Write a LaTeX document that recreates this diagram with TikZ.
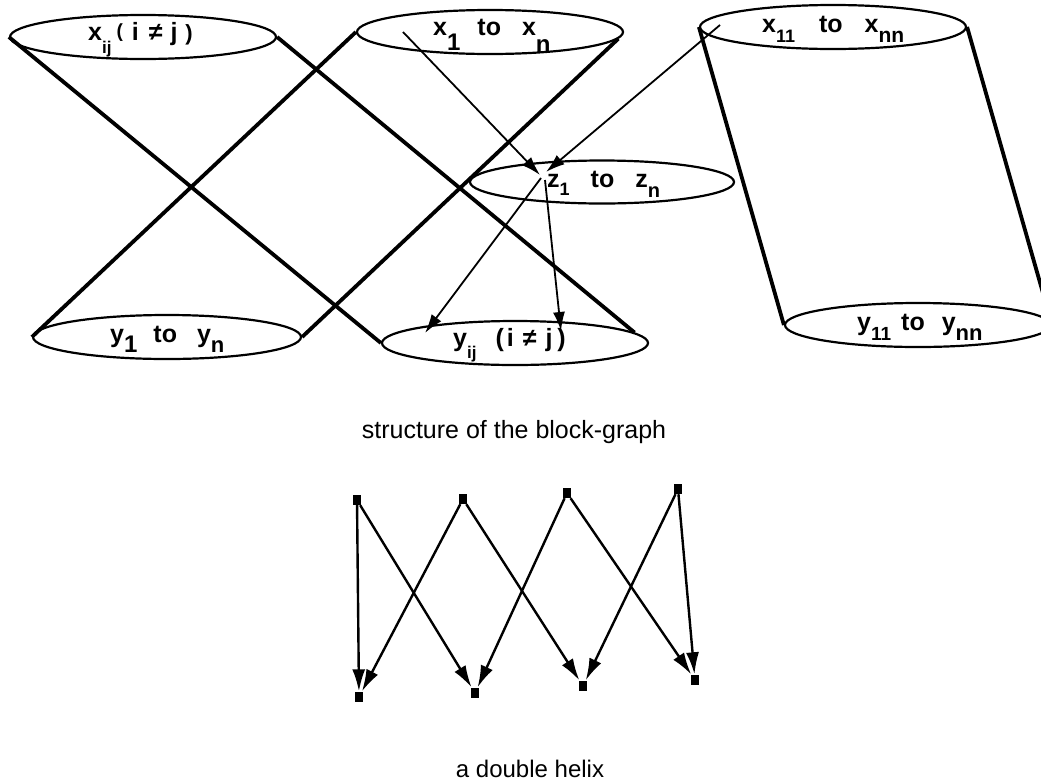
\documentclass[tikz,border=0pt]{standalone}
\usepackage{fontspec}
\setmainfont{Liberation Sans}
\usetikzlibrary{shapes.geometric,arrows.meta}
\newcommand\lowsub[3]{\raisebox{-#1pt}{\fontsize{#2}{#2}\selectfont #3}}
\newcommand\fs[2]{{\fontsize{#1}{#1}\selectfont #2}}
\begin{document}
\begin{tikzpicture}[x=1pt,y=-1pt,
  oval/.style={draw,ellipse,line width=2.2pt,minimum width=266pt,minimum height=44pt,inner sep=0pt},
  lbl/.style={anchor=base west,inner sep=0pt,font=\bfseries\fontsize{25}{25}\selectfont},
  conelink/.style={line width=3.8pt},
  thinarrow/.style={line width=1.8pt,-{Latex[length=19pt,width=12pt]}},
  sq/.style={fill=black,minimum width=8pt,minimum height=10pt,inner sep=0pt},
  hx/.style={line width=2.4pt,-{Latex[length=22pt,width=13pt]},shorten >=0.5pt},
  captxt/.style={anchor=base,inner sep=0pt}
]
\useasboundingbox (0,0) rectangle (1041,782);
\clip (0,0) rectangle (1041,782);

% ellipses
\node[oval] (xij) at (143,37) {};
\node[oval] (x1) at (490,32) {};
\node[oval] (x11) at (833,27) {};
\node[oval,minimum width=264pt,minimum height=43pt] (z) at (602,182) {};
\node[oval,minimum width=268pt] (y1) at (167,337) {};
\node[oval] (yij) at (515,343) {};
\node[oval] (y11) at (918,325) {};

% cone / cylinder edges
\draw[conelink] (xij.west) -- (yij.west);
\draw[conelink] (xij.east) -- (yij.5);
\draw[conelink] (y1.west) -- (x1.west);
\draw[conelink] (y1.east) -- (x1.-3.5);
\draw[conelink] (x11.west) -- (y11.west);
\draw[conelink] (x11.east) -- (y11.east);

% labels
\node[lbl] (lxij) at (88,40) {x\lowsub{13}{17}{ij}\hspace{5pt}\raisebox{3pt}{\fs{19}{(}}\hspace{9pt}\fs{25}{i}\hspace{10pt}\fs{25}{≠}\hspace{8pt}\fs{25}{j}\hspace{8pt}\fs{22}{)}};
\node[lbl] (lx1) at (433,35) {x\lowsub{15}{24}{1}\hspace{17pt}to\hspace{21pt}x\lowsub{17}{24}{n}};
\node[lbl] (lx11) at (762,32) {x\lowsub{10}{18}{11}\hspace{24pt}to\hspace{22pt}x\lowsub{10}{21}{nn}};
\node[lbl] (lz) at (547,187) {z\lowsub{8}{18}{1}\hspace{21pt}to\hspace{21pt}z\lowsub{10}{20}{n}};
\node[lbl] (ly1) at (110,342) {y\lowsub{10}{24}{1}\hspace{16pt}to\hspace{20pt}y\lowsub{10}{22}{n}};
\node[lbl] (lyij) at (453,346) {y\lowsub{12}{17}{ij}\hspace{19pt}(\hspace{3pt}i\hspace{9pt}≠\hspace{9pt}j\hspace{5pt})};
\node[lbl] (ly11) at (857,330) {y\lowsub{10}{19}{11}\hspace{10pt}to\hspace{17pt}y\lowsub{10}{22}{nn}};

% thin arrows
\coordinate (x1in) at (403,32);
\coordinate (x11in) at (720,25);
\coordinate (zin1) at (540,175);
\coordinate (zin2) at (546,172);
\coordinate (zout1) at (541,178);
\coordinate (zout2) at (545,180);
\coordinate (yijin1) at (425,333);
\coordinate (yijin2) at (561,331);
\draw[thinarrow] (x1in) -- (zin1);
\draw[thinarrow] (x11in) -- (zin2);
\draw[thinarrow] (zout1) -- (yijin1);
\draw[thinarrow] (zout2) -- (yijin2);

\node[captxt,font=\fontsize{25}{25}\selectfont] (cap1) at (514,438) {structure of the block-graph};

% double helix
\node[sq] (t1) at (357,500) {};
\node[sq] (t2) at (463,499) {};
\node[sq] (t3) at (567,493) {};
\node[sq] (t4) at (678,489) {};
\node[sq] (b1) at (359,697) {};
\node[sq] (b2) at (475,693) {};
\node[sq] (b3) at (583,686) {};
\node[sq] (b4) at (695,680) {};
\draw[hx] (t1) -- (b1);
\draw[hx] (t1) -- (b2);
\draw[hx] (t2) -- (b1);
\draw[hx] (t2) -- (b3);
\draw[hx] (t3) -- (b2);
\draw[hx] (t3) -- (b4);
\draw[hx] (t4) -- (b3);
\draw[hx] (t4) -- (b4);

\node[captxt,font=\fontsize{24}{24}\selectfont] (cap2) at (530,777) {a double helix};
\end{tikzpicture}
\end{document}
